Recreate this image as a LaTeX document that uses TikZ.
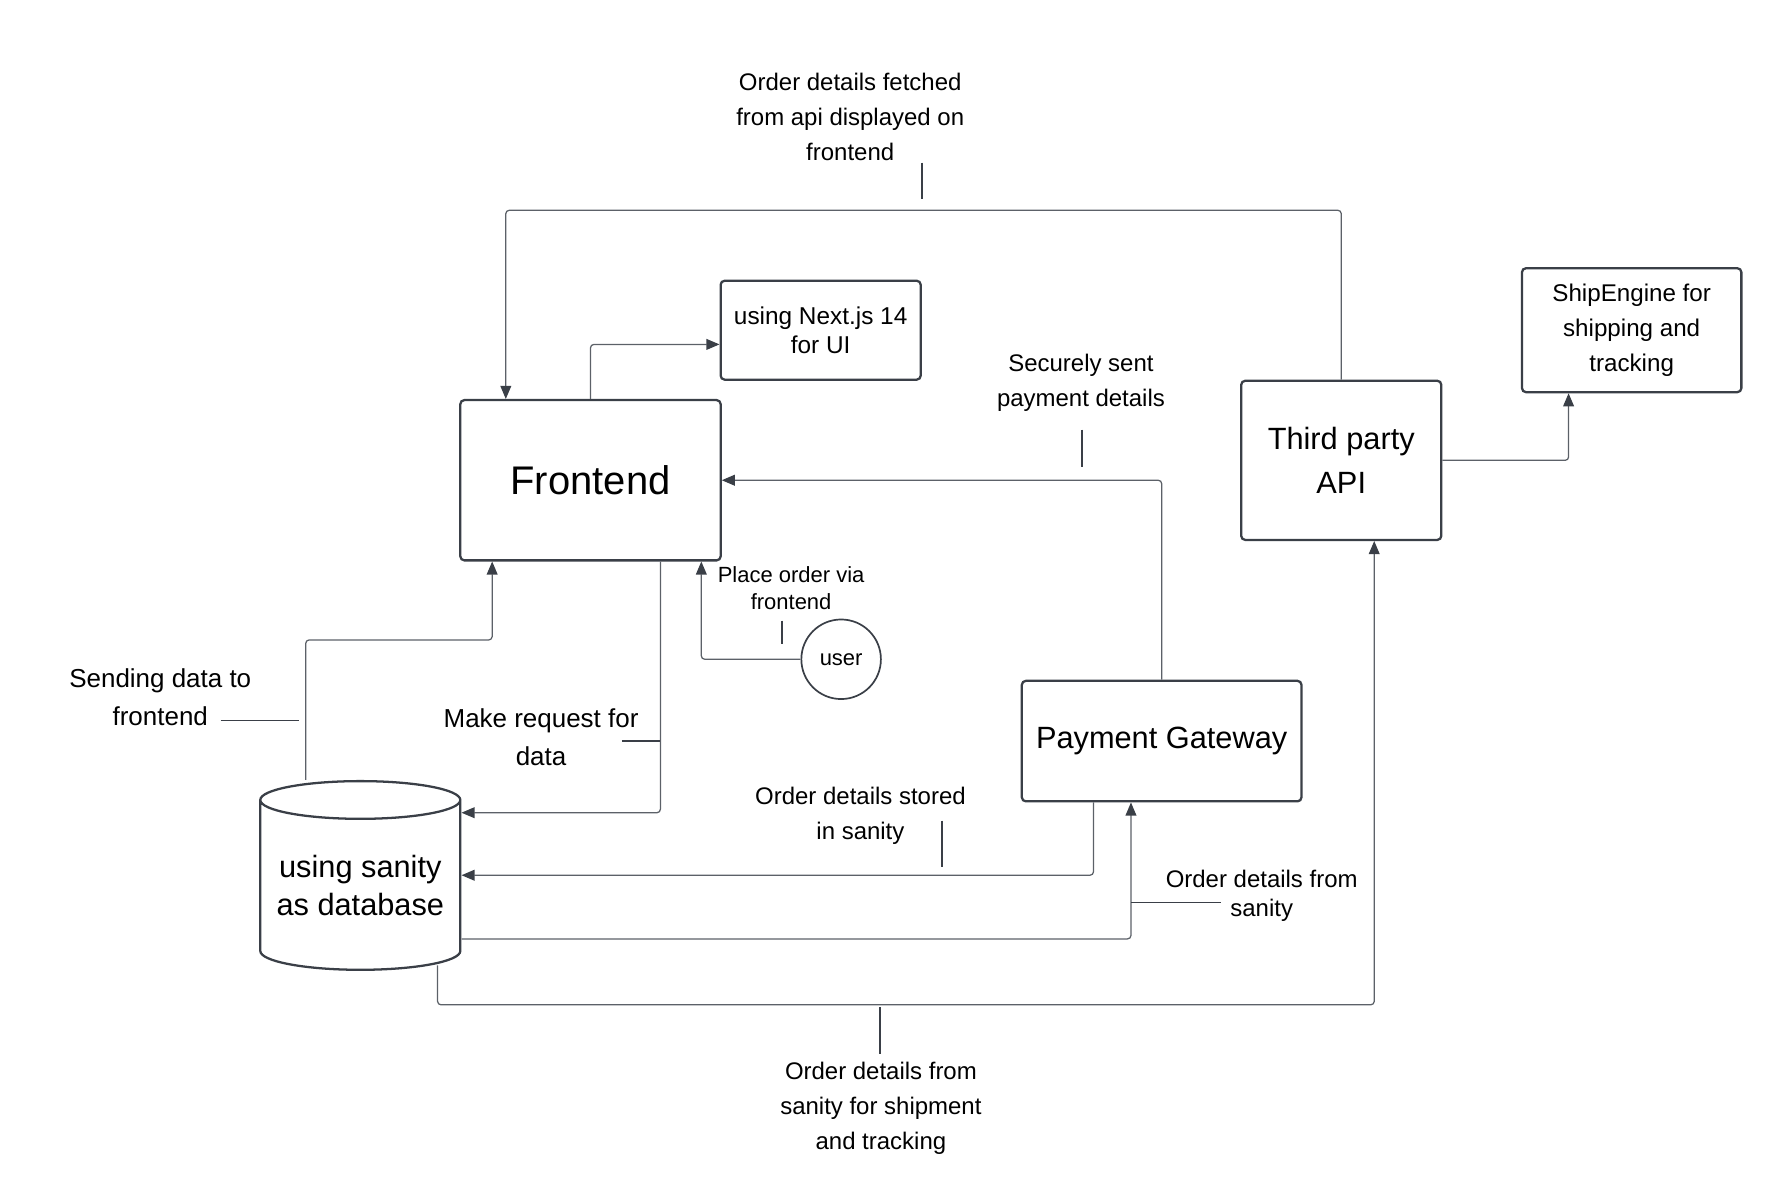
\documentclass[tikz,border=0pt]{standalone}
\usepackage{fontspec}
\setmainfont{Liberation Sans}
\usetikzlibrary{arrows.meta,shapes.geometric}
\definecolor{linegray}{HTML}{5C6168}
\definecolor{boxline}{HTML}{3A3F47}
\begin{document}
\begin{tikzpicture}[x=0.2mm,y=-0.2mm,
  box/.style={draw=boxline,line width=0.4mm,rounded corners=0.7mm,align=center,inner sep=0pt},
  arr/.style={draw=linegray,line width=0.22mm,rounded corners=0.6mm,-{Triangle[length=2.3mm,width=1.9mm,color=boxline]}},
  lbl/.style={align=center,font=\fontsize{12}{17.6}\selectfont},
  tick/.style={draw=boxline,line width=0.3mm}]
\useasboundingbox (0,0) rectangle (1566,1055);
% boxes
\node[box,minimum width=45.8mm,minimum height=28.2mm,font=\fontsize{20}{24}\selectfont] (front) at (519.5,422.5) {Frontend};
\node[box,minimum width=35.2mm,minimum height=17.4mm,font=\fontsize{12.2}{14.8}\selectfont] (next) at (722,290.5) {using Next.js 14\\for UI};
\node[box,minimum width=35.2mm,minimum height=28mm,font=\fontsize{15.4}{22.2}\selectfont] (api) at (1180,405) {Third party\\API};
\node[box,minimum width=38.6mm,minimum height=21.8mm,font=\fontsize{12.1}{17.6}\selectfont] (ship) at (1435.5,290.5) {ShipEngine for\\shipping and\\tracking};
\node[box,minimum width=49.2mm,minimum height=21.2mm,font=\fontsize{15.4}{18}\selectfont] (pay) at (1022,652) {Payment Gateway};
\node[cylinder,shape border rotate=90,draw=boxline,line width=0.4mm,aspect=0.225,minimum width=35.2mm,minimum height=33.2mm,align=center,inner sep=0pt,font=\fontsize{15.4}{18.8}\selectfont] (db) at (317,779) {using sanity\\as database};
\node[circle,draw=boxline,line width=0.3mm,minimum size=14mm,inner sep=0pt,font=\fontsize{11}{13}\selectfont] (user) at (740,580) {user};
% labels
\node[lbl] (lfetch) at (748,103) {Order details fetched\\from api displayed on\\frontend};
\node[lbl] (lsecure) at (951,336.5) {Securely sent\\payment details};
\node[lbl,font=\fontsize{13}{18.8}\selectfont] (lsend) at (141,613.5) {Sending data to\\frontend};
\node[lbl,font=\fontsize{13}{18.8}\selectfont] (lreq) at (476,648.5) {Make request for\\data};
\node[lbl,font=\fontsize{11}{13.1}\selectfont] (lplace) at (696,517.5) {Place order via\\frontend};
\node[lbl] (lstored) at (757,717.5) {Order details stored\\in sanity};
\node[lbl,font=\fontsize{12}{14.8}\selectfont] (lfrom) at (1110,788) {Order details from\\sanity};
\node[lbl] (lship) at (775,975) {Order details from\\sanity for shipment\\and tracking};
% connectors
\draw[arr] (api.north) |- (445,185) -- (front.north -| 445,0);
\draw[arr] (front.north) |- (next.west |- 0,303);
\draw[arr] (pay.north) |- (front.east);
\draw[arr] (api.east) -| (ship.south -| 1380,0);
\draw[arr] (db.north -| 269,0) |- (433,563) -- (front.south -| 433,0);
\draw[arr] (front.south -| 581,0) |- (db.east |- 0,715);
\draw[arr] (user.west) -| (front.south -| 617,0);
\draw[arr] (pay.south -| 962,0) |- (db.east |- 0,770);
\draw[arr] (db.east |- 0,826) -| (pay.south -| 995,0);
\draw[arr] ([yshift=1mm]db.south -| 385,0) |- (1209,884) -- (api.south -| 1209,0);
% label ticks
\draw[tick] (811,143) -- (811,175);
\draw[tick] (952,378) -- (952,411);
\draw[tick] (194,634) -- (263,634);
\draw[tick] (547,652) -- (581,652);
\draw[tick] (688,546) -- (688,567);
\draw[tick] (829,722) -- (829,763);
\draw[tick] (995,794) -- (1074,794);
\draw[tick] (774,886) -- (774,927);
\end{tikzpicture}
\end{document}
